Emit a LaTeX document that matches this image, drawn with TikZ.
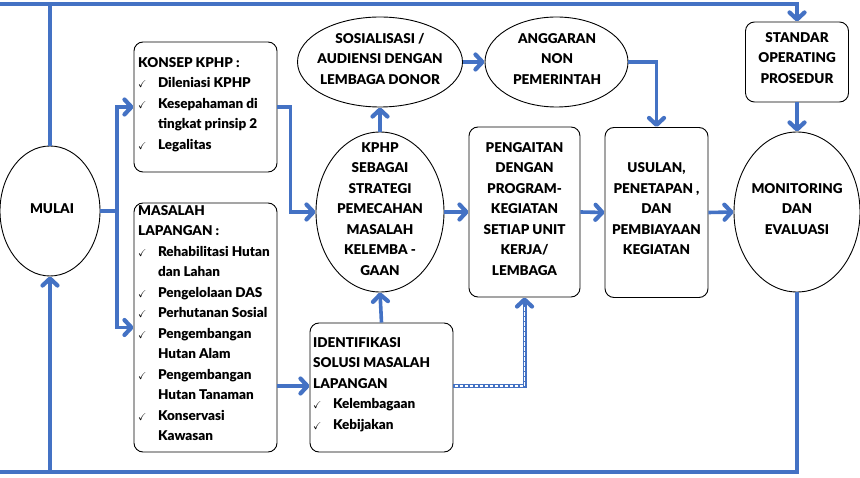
\documentclass[tikz,border=0pt]{standalone}
\usepackage{fontspec}
\usepackage{amssymb}
\setmainfont{Lato}[BoldFont={Lato Black}]
\usetikzlibrary{shapes.geometric,arrows.meta}
\definecolor{myblue}{RGB}{68,114,196}
\newcommand{\fs}{\fontsize{13.5}{20.5}\selectfont\bfseries}
\newcommand{\ck}{{\fontsize{10}{10}\selectfont$\checkmark$}}
\begin{document}
\begin{tikzpicture}[x=1pt,y=-1pt,
  ell/.style={ellipse, draw, line width=0.9pt, inner sep=0pt},
  box/.style={rectangle, draw, rounded corners=9pt, line width=0.9pt, inner sep=0pt},
  lbl/.style={font=\fs, align=center, inner sep=0pt},
  lst/.style={font=\fs, align=left, inner sep=0pt, anchor=north west},
  ln/.style={line width=3.6pt, draw=myblue},
  arr/.style={ln, -{Straight Barb[length=7pt,width=15pt,line width=4.2pt,round]}},
  dotb/.style={draw=myblue, line width=4pt},
  dotw/.style={draw=white, line width=1.9pt, dash pattern=on 3.4pt off 1.6pt}
]
\useasboundingbox (0,0) rectangle (860,478);

% shapes
\node[ell, minimum width=100, minimum height=130] (mulai) at (50,211) {};
\node[box, minimum width=143, minimum height=130] (konsep) at (205.5,107) {};
\node[box, minimum width=143, minimum height=249] (masalah) at (205.5,327.5) {};
\node[ell, minimum width=128, minimum height=160] (kphp) at (380,212) {};
\node[ell, minimum width=165, minimum height=90] (sos) at (380,62) {};
\node[ell, minimum width=143, minimum height=90] (ang) at (556.5,62) {};
\node[box, minimum width=111, minimum height=170] (peng) at (524.5,212) {};
\node[box, minimum width=103, minimum height=170] (usul) at (656.5,212.5) {};
\node[box, minimum width=103, minimum height=80] (sop) at (797,62) {};
\node[ell, minimum width=126, minimum height=160] (mon) at (797,212) {};
\node[box, minimum width=143, minimum height=129] (ident) at (381.5,387.5) {};

% texts
\node[lbl] (tmulai) at (52,209) {MULAI};
\node[lbl] (tkphp) at (380,209) {KPHP\\SEBAGAI\\STRATEGI\\PEMECAHAN\\MASALAH\\KELEMBA -\\GAAN};
\node[lbl] (tsos) at (380,59) {SOSIALISASI /\\AUDIENSI DENGAN\\LEMBAGA DONOR};
\node[lbl] (tang) at (557,59) {ANGGARAN\\NON\\PEMERINTAH};
\node[lbl] (tpeng) at (524.5,209) {PENGAITAN\\DENGAN\\PROGRAM-\\KEGIATAN\\SETIAP UNIT\\KERJA/\\LEMBAGA};
\node[lbl] (tusul) at (656.5,209) {USULAN,\\PENETAPAN ,\\DAN\\PEMBIAYAAN\\KEGIATAN};
\node[lbl] (tsop) at (797,58) {STANDAR\\OPERATING\\PROSEDUR};
\node[lbl] (tmon) at (797,209) {MONITORING\\DAN\\EVALUASI};

\node[lst] (tkonsep) at (138,52.5) {\begin{tabular}{@{}l@{\hspace{11.5pt}}l@{}}
\multicolumn{2}{@{}l@{}}{KONSEP KPHP :}\\
\ck & Dileniasi KPHP\\
\ck & Kesepahaman di\\
 & tingkat prinsip 2\\
\ck & Legalitas
\end{tabular}};
\node[lst] (tmasalah) at (138,200.5) {\begin{tabular}{@{}l@{\hspace{11.5pt}}l@{}}
\multicolumn{2}{@{}l@{}}{MASALAH}\\
\multicolumn{2}{@{}l@{}}{LAPANGAN :}\\
\ck & Rehabilitasi Hutan\\
 & dan Lahan\\
\ck & Pengelolaan DAS\\
\ck & Perhutanan Sosial\\
\ck & Pengembangan\\
 & Hutan Alam\\
\ck & Pengembangan\\
 & Hutan Tanaman\\
\ck & Konservasi\\
 & Kawasan
\end{tabular}};
\node[lst] (tident) at (313,332.5) {\begin{tabular}{@{}l@{\hspace{11.5pt}}l@{}}
\multicolumn{2}{@{}l@{}}{IDENTIFIKASI}\\
\multicolumn{2}{@{}l@{}}{SOLUSI MASALAH}\\
\multicolumn{2}{@{}l@{}}{LAPANGAN}\\
\ck & Kelembagaan\\
\ck & Kebijakan
\end{tabular}};

% helper coordinates
\coordinate (top) at (0,4);
\coordinate (bot) at (0,472);
\coordinate (br) at (117,211);
\coordinate (ymi) at (0,386);

% connectors
\draw[arr] (mulai.north) |- (top) -| (sop.north);
\draw[arr] (mon.south) |- (bot) -| (mulai.south);
\draw[ln] (mulai.east) -- (br);
\draw[arr] (br) |- (konsep.west);
\draw[arr] (br) |- (masalah.west);
\draw[arr] (konsep.east) -- ++(13,0) |- (kphp.west);
\draw[arr] (kphp.north) -- (sos.south);
\draw[arr] (sos.east) -- (ang.west);
\draw[arr] (ang.east) -| (usul.north);
\draw[arr] (kphp.east) -- (peng.west);
\draw[arr] (peng.east) -- (usul.west);
\draw[arr] (usul.east) -- (mon.west);
\draw[arr] (sop.south) -- (mon.north);
\draw[arr] (ident.north) -- (kphp.south);
\draw[arr] (masalah.east |- ymi) -- (ident.west |- ymi);
\draw[dotb] (ident.east |- ymi) -| ([yshift=-7]peng.south);
\draw[dotw] ([xshift=1.5]ident.east |- ymi) -| ([yshift=-9]peng.south);
\draw[arr] ([yshift=-8]peng.south) -- (peng.south);
\end{tikzpicture}
\end{document}
